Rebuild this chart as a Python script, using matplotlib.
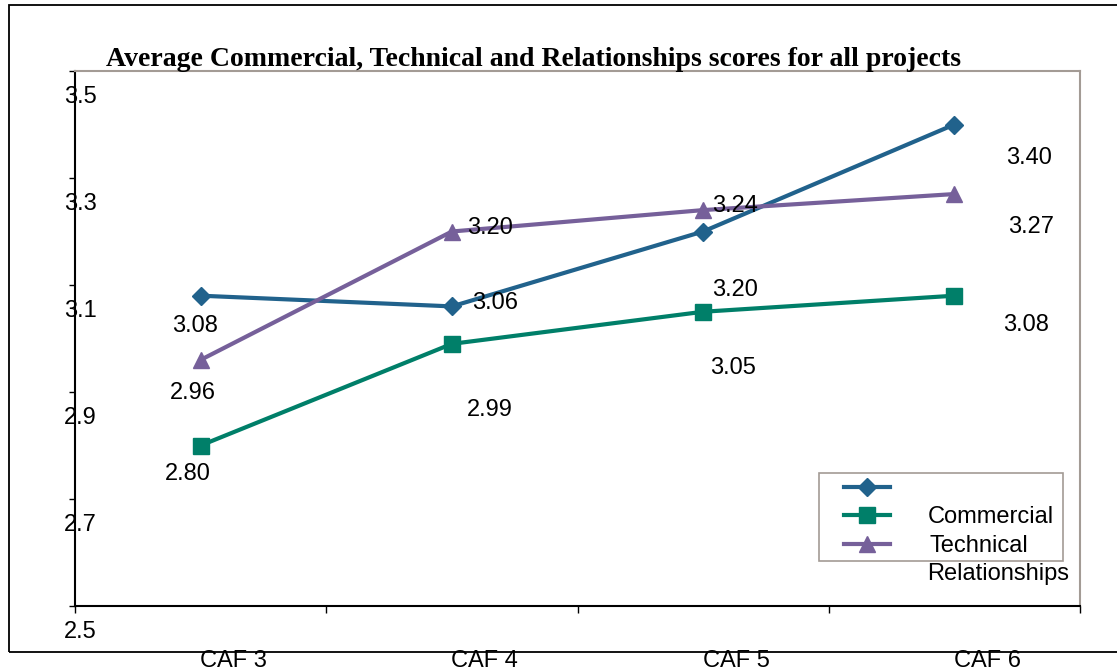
import matplotlib
matplotlib.use('Agg')
import matplotlib.pyplot as plt
from matplotlib.lines import Line2D
from matplotlib.patches import Rectangle

# ---- data ----
categories = ['CAF 3', 'CAF 4', 'CAF 5', 'CAF 6']
commercial = [3.08, 3.06, 3.20, 3.40]
technical = [2.80, 2.99, 3.05, 3.08]
relationships = [2.96, 3.20, 3.24, 3.27]
y_ticks = [2.5, 2.7, 2.9, 3.1, 3.3, 3.5]
legend_labels = ['Commercial', 'Technical', 'Relationships']
title = 'Average Commercial, Technical and Relationships scores for all projects'

# ---- style ----
W, H = 1117, 670
BLUE = '#21628c'
GREEN = '#007f69'
PURPLE = '#76609a'
GRAY = '#a39b95'
SANS = ['Liberation Sans', 'DejaVu Sans']
FS = 17
DY = -3  # visual centering correction for digits

fig = plt.figure(figsize=(W / 100, H / 100), dpi=100)


def fx(px):
    return px / W


def fy(py):
    return 1 - py / H


# outer border (right side cut off by the image edge)
fig.add_artist(Rectangle((fx(9), fy(652)), 1.2, fy(5) - fy(652), fill=False,
                         ec='black', lw=1.3, transform=fig.transFigure, zorder=0))

ax = fig.add_axes([fx(75), fy(606), fx(1080) - fx(75), fy(71) - fy(606)])
ax.set_xlim(-0.5, 3.5)
ax.set_ylim(2.5, 3.5)

x = list(range(len(categories)))
series = [
    (commercial, BLUE, 'D', 9.5, [(-6, -27), (43, 6), (32, -55), (75, -31)]),
    (technical, GREEN, 's', 11, [(-13, -25), (38, -63), (30, -53), (72, -26)]),
    (relationships, PURPLE, '^', 12, [(-8, -30), (38, 6), (32, 7), (77, -30)]),
]
for vals, col, mk, ms, offs in series:
    ax.plot(x, vals, color=col, lw=3, marker=mk, ms=ms, mec=col, mfc=col,
            clip_on=False, zorder=3)
    for xi, v, (dx, dy) in zip(x, vals, offs):
        ax.annotate(f'{v:.2f}', (xi, v), xytext=(dx, dy + DY), textcoords='offset pixels',
                    ha='center', va='center', fontsize=FS, family=SANS, zorder=4)

# spines
for s in ['left', 'bottom']:
    ax.spines[s].set_color('black')
    ax.spines[s].set_linewidth(1.5)
for s in ['top', 'right']:
    ax.spines[s].set_color(GRAY)
    ax.spines[s].set_linewidth(1.5)

# ticks (labels drawn manually, offset as in the reference)
ax.set_yticks(y_ticks)
ax.set_yticklabels([])
ax.set_xticks([-0.5, 0.5, 1.5, 2.5, 3.5])
ax.set_xticklabels([])
ax.tick_params(axis='y', direction='out', length=4, width=1, color='black')
ax.tick_params(axis='x', direction='out', length=5, width=1, color='black')

for v in y_ticks:
    ax.annotate(f'{v:.1f}', (0, v), xycoords=('axes fraction', 'data'),
                xytext=(5, -23 + DY), textcoords='offset pixels', ha='center', va='center',
                fontsize=FS, family=SANS, annotation_clip=False)
for xi, c in zip(x, categories):
    ax.annotate(c, (xi, 0), xycoords=('data', 'axes fraction'),
                xytext=(33, -52 + DY), textcoords='offset pixels', ha='center', va='center',
                fontsize=FS, family=SANS, annotation_clip=False)

# title
fig.text(fx(534), fy(66), title, ha='center', va='baseline', fontsize=20,
         fontweight='bold', family=['Liberation Serif', 'DejaVu Serif'])

# legend (labels shifted one row down, as in the reference)
fig.add_artist(Rectangle((fx(819), fy(561)), fx(1063) - fx(819), fy(473) - fy(561),
                         fill=True, fc='white', ec=GRAY, lw=1.2,
                         transform=fig.transFigure, zorder=5))
rows = [487, 515, 544, 572]
for (vals, col, mk, ms, offs), r in zip(series, rows):
    fig.add_artist(Line2D([fx(844), fx(890)], [fy(r), fy(r)], color=col, lw=3,
                          transform=fig.transFigure, zorder=6))
    fig.add_artist(Line2D([fx(867)], [fy(r)], color=col, marker=mk, ms=ms, mec=col,
                          mfc=col, transform=fig.transFigure, zorder=6))
for lab, r, lx in zip(legend_labels, rows[1:], [928, 930, 927]):
    fig.text(fx(lx), fy(r) - 2 / H, lab, ha='left', va='center', fontsize=FS, family=SANS,
             zorder=7)

fig.savefig('out.png', dpi=100)
